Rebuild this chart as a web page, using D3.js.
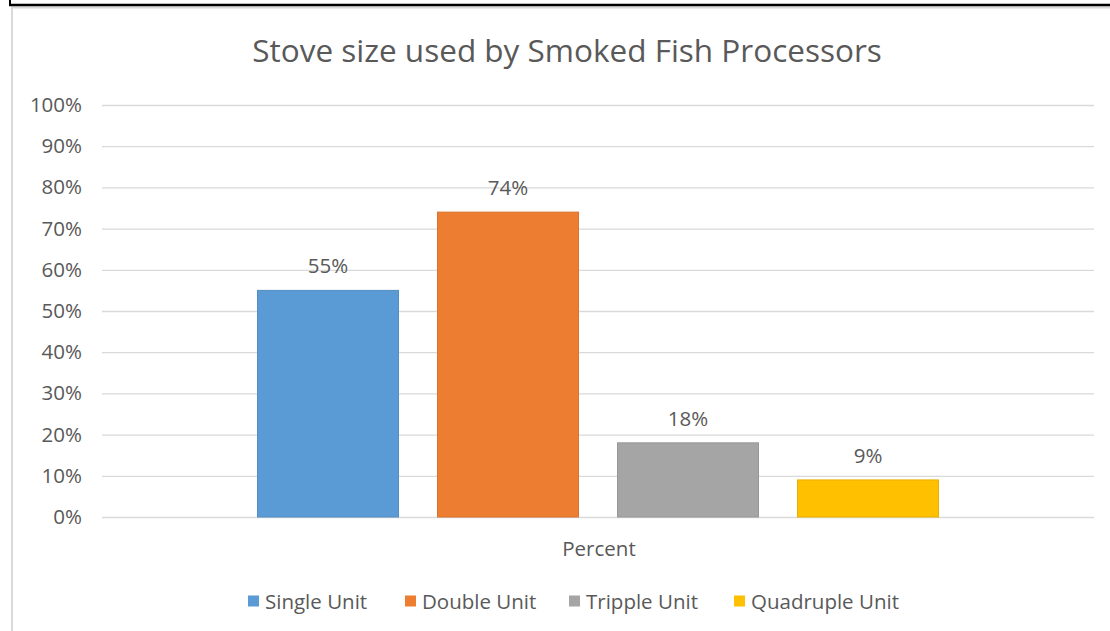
<!DOCTYPE html>
<html>
<head>
<meta charset="utf-8">
<script src="https://cdn.jsdelivr.net/npm/d3@7"></script>
<style>
  html, body { margin: 0; padding: 0; background: #fff; }
  svg { display: block; }
  text { font-family: "Open Sans", "Noto Sans", sans-serif; fill: #595959; }
</style>
</head>
<body>
<svg id="chart" width="1110" height="631"></svg>
<script>
// Chart data
const categories = ["Percent"];
const seriesNames = ["Single Unit", "Double Unit", "Tripple Unit", "Quadruple Unit"];
const seriesValues = [0.55, 0.74, 0.18, 0.09];
const seriesColors = ["#5B9BD5", "#ED7D31", "#A5A5A5", "#FFC000"];
const tickValues = [0, 0.1, 0.2, 0.3, 0.4, 0.5, 0.6, 0.7, 0.8, 0.9, 1.0];
const title = "Stove size used by Smoked Fish Processors";

const svg = d3.select("#chart");
const W = 1110, H = 631;
const labelSize = 20.5;

// Page frame: black rule across the top and the chart's light border
svg.append("rect").attr("x", 12).attr("y", 7.5).attr("width", W + 10).attr("height", H + 10)
  .attr("fill", "#fff").attr("stroke", "#d9d9d9").attr("stroke-width", 2);
svg.append("line").attr("x1", 9).attr("x2", W).attr("y1", 5).attr("y2", 5)
  .attr("stroke", "#000").attr("stroke-width", 2.5);
svg.append("line").attr("x1", 10).attr("x2", 10).attr("y1", 0).attr("y2", 6)
  .attr("stroke", "#000").attr("stroke-width", 2);

const plot = { left: 102, right: 1094, top: 105, bottom: 517 };

const y = d3.scaleLinear().domain([0, 1]).range([plot.bottom, plot.top]);
const x0 = d3.scaleBand().domain(categories).range([plot.left, plot.right]).paddingInner(0).paddingOuter(0);
const inset = 155.5;
const x1 = d3.scaleBand().domain(seriesNames)
  .range([inset, x0.bandwidth() - inset]).paddingInner(0.2167).paddingOuter(0);

// Gridlines and percentage ticks
const yAxis = d3.axisLeft(y).tickValues(tickValues).tickFormat(d3.format(".0%"))
  .tickSize(-(plot.right - plot.left)).tickPadding(20);
const gy = svg.append("g").attr("transform", `translate(${plot.left},0)`).call(yAxis);
gy.select(".domain").remove();
gy.selectAll(".tick line").attr("stroke", "#d9d9d9").attr("stroke-width", 1.3);
gy.selectAll(".tick text").attr("font-size", labelSize).attr("fill", "#595959")
  .style("font-family", "'Open Sans', sans-serif");

// Bars
const groups = svg.append("g").selectAll("g").data(categories).join("g")
  .attr("transform", d => `translate(${x0(d)},0)`);
const rows = seriesNames.map((s, i) => ({ name: s, value: seriesValues[i], color: seriesColors[i] }));
groups.selectAll("rect").data(rows).join("rect")
  .attr("x", d => x1(d.name))
  .attr("y", d => y(d.value))
  .attr("width", x1.bandwidth())
  .attr("height", d => y(0) - y(d.value))
  .attr("fill", d => d.color)
  .attr("stroke", d => d3.color(d.color).darker(0.25))
  .attr("stroke-width", 1);

// Value labels
groups.selectAll("text.val").data(rows).join("text").attr("class", "val")
  .attr("x", d => x1(d.name) + x1.bandwidth() / 2)
  .attr("y", d => y(d.value) - 17)
  .attr("text-anchor", "middle")
  .attr("font-size", labelSize)
  .text(d => d3.format(".0%")(d.value));

// Category label
svg.append("g").selectAll("text").data(categories).join("text")
  .attr("x", d => x0(d) + x0.bandwidth() / 2 + 1)
  .attr("y", 556)
  .attr("text-anchor", "middle")
  .attr("font-size", labelSize)
  .text(d => d);

// Title
svg.append("text").attr("x", 567).attr("y", 62).attr("text-anchor", "middle")
  .attr("font-size", 31.5).text(title);

// Legend
const legend = svg.append("g").attr("transform", "translate(0,601)");
const legendX = [248, 405, 569, 734];
const items = legend.selectAll("g").data(rows).join("g")
  .attr("transform", (d, i) => `translate(${legendX[i]},0)`);
items.append("rect").attr("x", 0).attr("y", -5.5).attr("width", 11).attr("height", 11)
  .attr("fill", d => d.color);
items.append("text").attr("x", 17).attr("y", 7.5).attr("font-size", labelSize).text(d => d.name);
</script>
</body>
</html>
